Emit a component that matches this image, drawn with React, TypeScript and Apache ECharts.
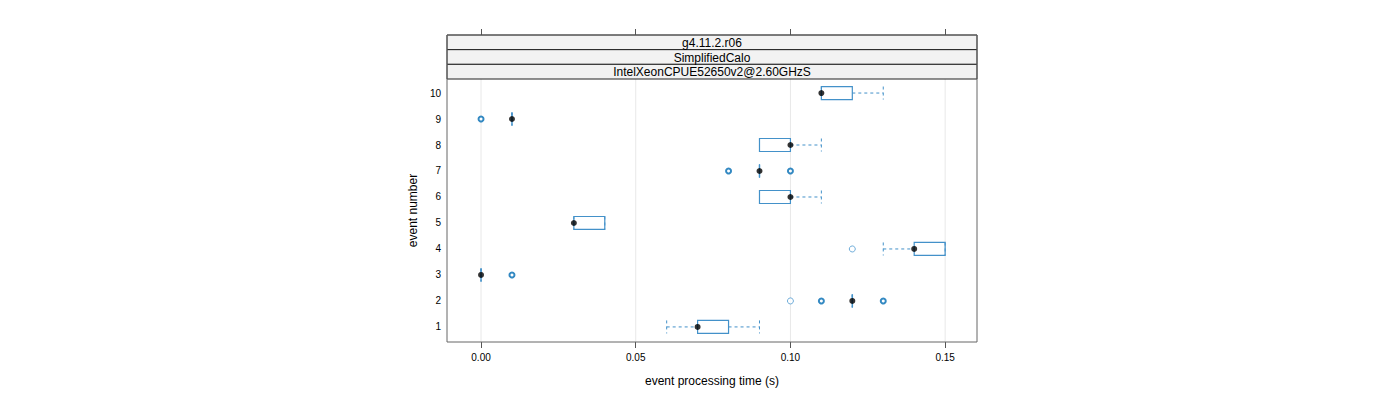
import React, { useEffect, useRef } from "react";
import * as echarts from "echarts";

// ---- data ----
const events = [1, 2, 3, 4, 5, 6, 7, 8, 9, 10];
const whiskerLow = [0.06, 0.12, 0.0, 0.13, 0.03, 0.09, 0.09, 0.09, 0.01, 0.11];
const q1 = [0.07, 0.12, 0.0, 0.14, 0.03, 0.09, 0.09, 0.09, 0.01, 0.11];
const median = [0.07, 0.12, 0.0, 0.14, 0.03, 0.1, 0.09, 0.1, 0.01, 0.11];
const q3 = [0.08, 0.12, 0.0, 0.15, 0.04, 0.1, 0.09, 0.1, 0.01, 0.12];
const whiskerHigh = [0.09, 0.12, 0.0, 0.15, 0.04, 0.11, 0.09, 0.11, 0.01, 0.13];
// outliers seen once (thin circle) and repeated (thick circle): [time, event]
const outliersSingle = [
  [0.1, 2],
  [0.12, 4],
];
const outliersRepeated = [
  [0.11, 2],
  [0.13, 2],
  [0.01, 3],
  [0.08, 7],
  [0.1, 7],
  [0.0, 9],
];
const xTicks = [0.0, 0.05, 0.1, 0.15];
const yTicks = [1, 2, 3, 4, 5, 6, 7, 8, 9, 10];
const stripLabels = ["g4.11.2.r06", "SimplifiedCalo", "IntelXeonCPUE52650v2@2.60GHzS"];
const xTitle = "event processing time (s)";
const yTitle = "event number";

const FONT = "'Liberation Sans', Arial, Helvetica, sans-serif";
const BLUE = "#4391c9";
const OUT_BLUE = "#006bb3";

export default function App() {
  const ref = useRef<HTMLDivElement>(null);
  useEffect(() => {
    document.body.style.margin = "0";
    if (!ref.current) return;
    const chart = echarts.init(ref.current, undefined, { renderer: "svg" });

    const gridLeft = 447;
    const gridTop = 79;
    const gridW = 530;
    const gridH = 263;
    const stripTop = 35;
    const stripH = (gridTop - stripTop) / 3;

    const boxData = events.map((e, i) => [
      whiskerLow[i],
      q1[i],
      median[i],
      q3[i],
      whiskerHigh[i],
      e,
    ]);

    const graphics: any[] = [];
    stripLabels.forEach((lab, i) => {
      graphics.push({
        type: "rect",
        shape: { x: gridLeft, y: stripTop + i * stripH, width: gridW, height: stripH },
        style: { fill: "#f2f2f2", stroke: "#222", lineWidth: 1 },
        z: 10,
      });
      graphics.push({
        type: "text",
        x: gridLeft + gridW / 2,
        y: stripTop + i * stripH + stripH / 2 + 0.5,
        style: {
          text: lab,
          align: "center",
          verticalAlign: "middle",
          fontSize: 12,
          fontFamily: FONT,
          fill: "#000",
        },
        z: 11,
      });
    });
    graphics.push({
      type: "rect",
      shape: { x: gridLeft, y: stripTop, width: gridW, height: gridTop + gridH - stripTop },
      style: { fill: "none", stroke: "#666", lineWidth: 1 },
      z: 12,
    });

    const xAxisCommon = {
      type: "value",
      min: -0.011,
      max: 0.1603,
      splitLine: { show: false },
      axisLine: { show: false },
    };

    chart.setOption({
      animation: false,
      textStyle: { fontFamily: FONT },
      grid: { left: gridLeft, top: gridTop, width: gridW, height: gridH, show: false },
      xAxis: [
        {
          ...xAxisCommon,
          position: "bottom",
          axisTick: { show: true, length: 6, customValues: xTicks, lineStyle: { color: "#555" } },
          axisLabel: {
            customValues: xTicks,
            formatter: (v: number) => v.toFixed(2),
            fontSize: 10,
            color: "#000",
            margin: 10,
          },
          name: xTitle,
          nameLocation: "middle",
          nameGap: 33,
          nameTextStyle: { fontSize: 12, color: "#000" },
        },
        {
          ...xAxisCommon,
          position: "top",
          offset: gridTop - stripTop,
          axisTick: { show: true, length: 6, customValues: xTicks, lineStyle: { color: "#555" } },
          axisLabel: { show: false },
        },
      ],
      yAxis: {
        type: "value",
        min: 0.42,
        max: 10.54,
        splitLine: { show: false },
        axisLine: { show: false },
        axisTick: { show: false },
        axisLabel: {
          customValues: yTicks,
          fontSize: 10,
          color: "#000",
          margin: 6,
        },
        name: yTitle,
        nameLocation: "middle",
        nameGap: 28,
        nameTextStyle: { fontSize: 12, color: "#000" },
      },
      graphic: graphics,
      series: [
        {
          type: "custom",
          z: 1,
          silent: true,
          data: xTicks.map((v) => [v]),
          encode: { x: 0 },
          renderItem: (params: any, api: any) => {
            const p = api.coord([api.value(0), 5]);
            const cs = params.coordSys;
            return {
              type: "line",
              shape: { x1: p[0], y1: cs.y, x2: p[0], y2: cs.y + cs.height },
              style: { stroke: "#e8e8e8", lineWidth: 1 },
            };
          },
        },
        {
          type: "custom",
          z: 2,
          silent: true,
          data: boxData,
          encode: { x: [0, 1, 2, 3, 4], y: 5 },
          renderItem: (params: any, api: any) => {
            const y = api.value(5);
            const pLo = api.coord([api.value(0), y]);
            const pQ1 = api.coord([api.value(1), y]);
            const pQ3 = api.coord([api.value(3), y]);
            const pHi = api.coord([api.value(4), y]);
            const h = api.size([0, 0.5])[1];
            const cy = pLo[1];
            const dash = { stroke: BLUE, lineWidth: 1, lineDash: [3, 3] };
            const solid = { stroke: BLUE, lineWidth: 1.2, fill: "none" };
            const children: any[] = [];
            if (pQ1[0] - pLo[0] > 0.5)
              children.push({ type: "line", shape: { x1: pLo[0], y1: cy, x2: pQ1[0], y2: cy }, style: dash });
            if (pHi[0] - pQ3[0] > 0.5)
              children.push({ type: "line", shape: { x1: pQ3[0], y1: cy, x2: pHi[0], y2: cy }, style: dash });
            children.push({ type: "line", shape: { x1: pLo[0], y1: cy - h / 2, x2: pLo[0], y2: cy + h / 2 }, style: dash });
            children.push({ type: "line", shape: { x1: pHi[0], y1: cy - h / 2, x2: pHi[0], y2: cy + h / 2 }, style: dash });
            if (pQ3[0] - pQ1[0] > 0.5) {
              children.push({
                type: "rect",
                shape: { x: pQ1[0], y: cy - h / 2, width: pQ3[0] - pQ1[0], height: h },
                style: solid,
              });
            } else {
              children.push({
                type: "line",
                shape: { x1: pQ1[0], y1: cy - h / 2, x2: pQ1[0], y2: cy + h / 2 },
                style: { stroke: BLUE, lineWidth: 1.5 },
              });
            }
            return { type: "group", children };
          },
        },
        {
          type: "scatter",
          z: 3,
          silent: true,
          symbol: "circle",
          symbolSize: 6,
          itemStyle: { color: "#fff", borderColor: "#4a97cf", borderWidth: 1 },
          data: outliersSingle,
        },
        {
          type: "scatter",
          z: 3,
          silent: true,
          symbol: "circle",
          symbolSize: 5,
          itemStyle: { color: "#fff", borderColor: OUT_BLUE, borderWidth: 2 },
          data: outliersRepeated,
        },
        {
          type: "scatter",
          z: 4,
          silent: true,
          symbol: "circle",
          symbolSize: 6,
          itemStyle: { color: "#000" },
          data: events.map((e, i) => [median[i], e]),
        },
      ],
    });
    return () => chart.dispose();
  }, []);
  return <div ref={ref} style={{ width: 1400, height: 400 }} />;
}
